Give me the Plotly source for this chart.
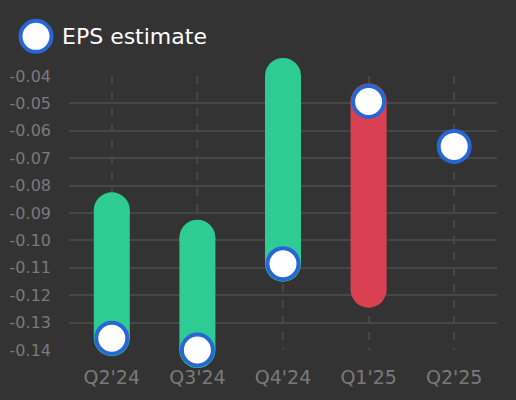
import plotly.graph_objects as go

quarters = ["Q2'24", "Q3'24", "Q4'24", "Q1'25", "Q2'25"]
eps_estimate = [-0.1357, -0.1400, -0.1085, -0.0493, -0.0657]
eps_actual = [-0.089, -0.099, -0.040, -0.118, None]
y_tickvals = [-0.04, -0.05, -0.06, -0.07, -0.08, -0.09, -0.10, -0.11, -0.12, -0.13, -0.14]
y_ticktext = ["-0.04", "-0.05", "-0.06", "-0.07", "-0.08", "-0.09", "-0.10", "-0.11", "-0.12", "-0.13", "-0.14"]

BG = "#333333"
GREEN = "#2ECC94"
RED = "#D94152"
BLUE = "#2866D6"
GRID = "#474747"
TICK = "#7A7A7A"
FONT = "DejaVu Sans"

fig = go.Figure()

for q, est, act in zip(quarters, eps_estimate, eps_actual):
    if act is None:
        continue
    color = GREEN if act > est else RED
    fig.add_trace(go.Scatter(
        x=[q, q], y=[act, est], mode="lines+markers",
        line=dict(color=color, width=36),
        marker=dict(size=36, color=color, line=dict(width=0)),
        cliponaxis=False, showlegend=False, hoverinfo="skip",
    ))

fig.add_trace(go.Scatter(
    x=quarters, y=eps_estimate, mode="markers", name="EPS estimate",
    marker=dict(size=31, color="white", line=dict(color=BLUE, width=4)),
    cliponaxis=False, showlegend=False,
))

# custom legend
fig.add_shape(type="circle", xref="paper", yref="paper",
              xsizemode="pixel", ysizemode="pixel",
              xanchor=-0.0771, yanchor=1.1447,
              x0=-15.5, x1=15.5, y0=-15.5, y1=15.5,
              fillcolor="white", line=dict(color=BLUE, width=4))
fig.add_annotation(xref="paper", yref="paper", x=-0.021, y=1.1447,
                   xanchor="left", yanchor="middle", showarrow=False,
                   text="EPS estimate", font=dict(family=FONT, size=22, color="white"))

fig.update_layout(
    width=516, height=400,
    paper_bgcolor=BG, plot_bgcolor=BG,
    margin=dict(l=69, r=19, t=76, b=50),
    font=dict(family=FONT),
    showlegend=False,
    xaxis=dict(
        type="category", categoryorder="array", categoryarray=quarters,
        range=[-0.5, 4.5], showgrid=True, gridcolor=GRID, gridwidth=2,
        griddash="8px,8px", zeroline=False, showline=False, ticks="",
        automargin=False,
        tickfont=dict(family=FONT, size=19, color=TICK), ticklabelstandoff=14,
    ),
    yaxis=dict(
        range=[-0.14, -0.04], tickvals=y_tickvals, ticktext=y_ticktext,
        showgrid=True, gridcolor=GRID, gridwidth=2, zeroline=False,
        showline=False, ticks="", automargin=False,
        tickfont=dict(family=FONT, size=16, color=TICK), ticklabelstandoff=17,
    ),
)

fig.write_html("out.html", config={"displayModeBar": False},
               post_script="document.body.style.margin='0';document.body.style.background='#333333';")
